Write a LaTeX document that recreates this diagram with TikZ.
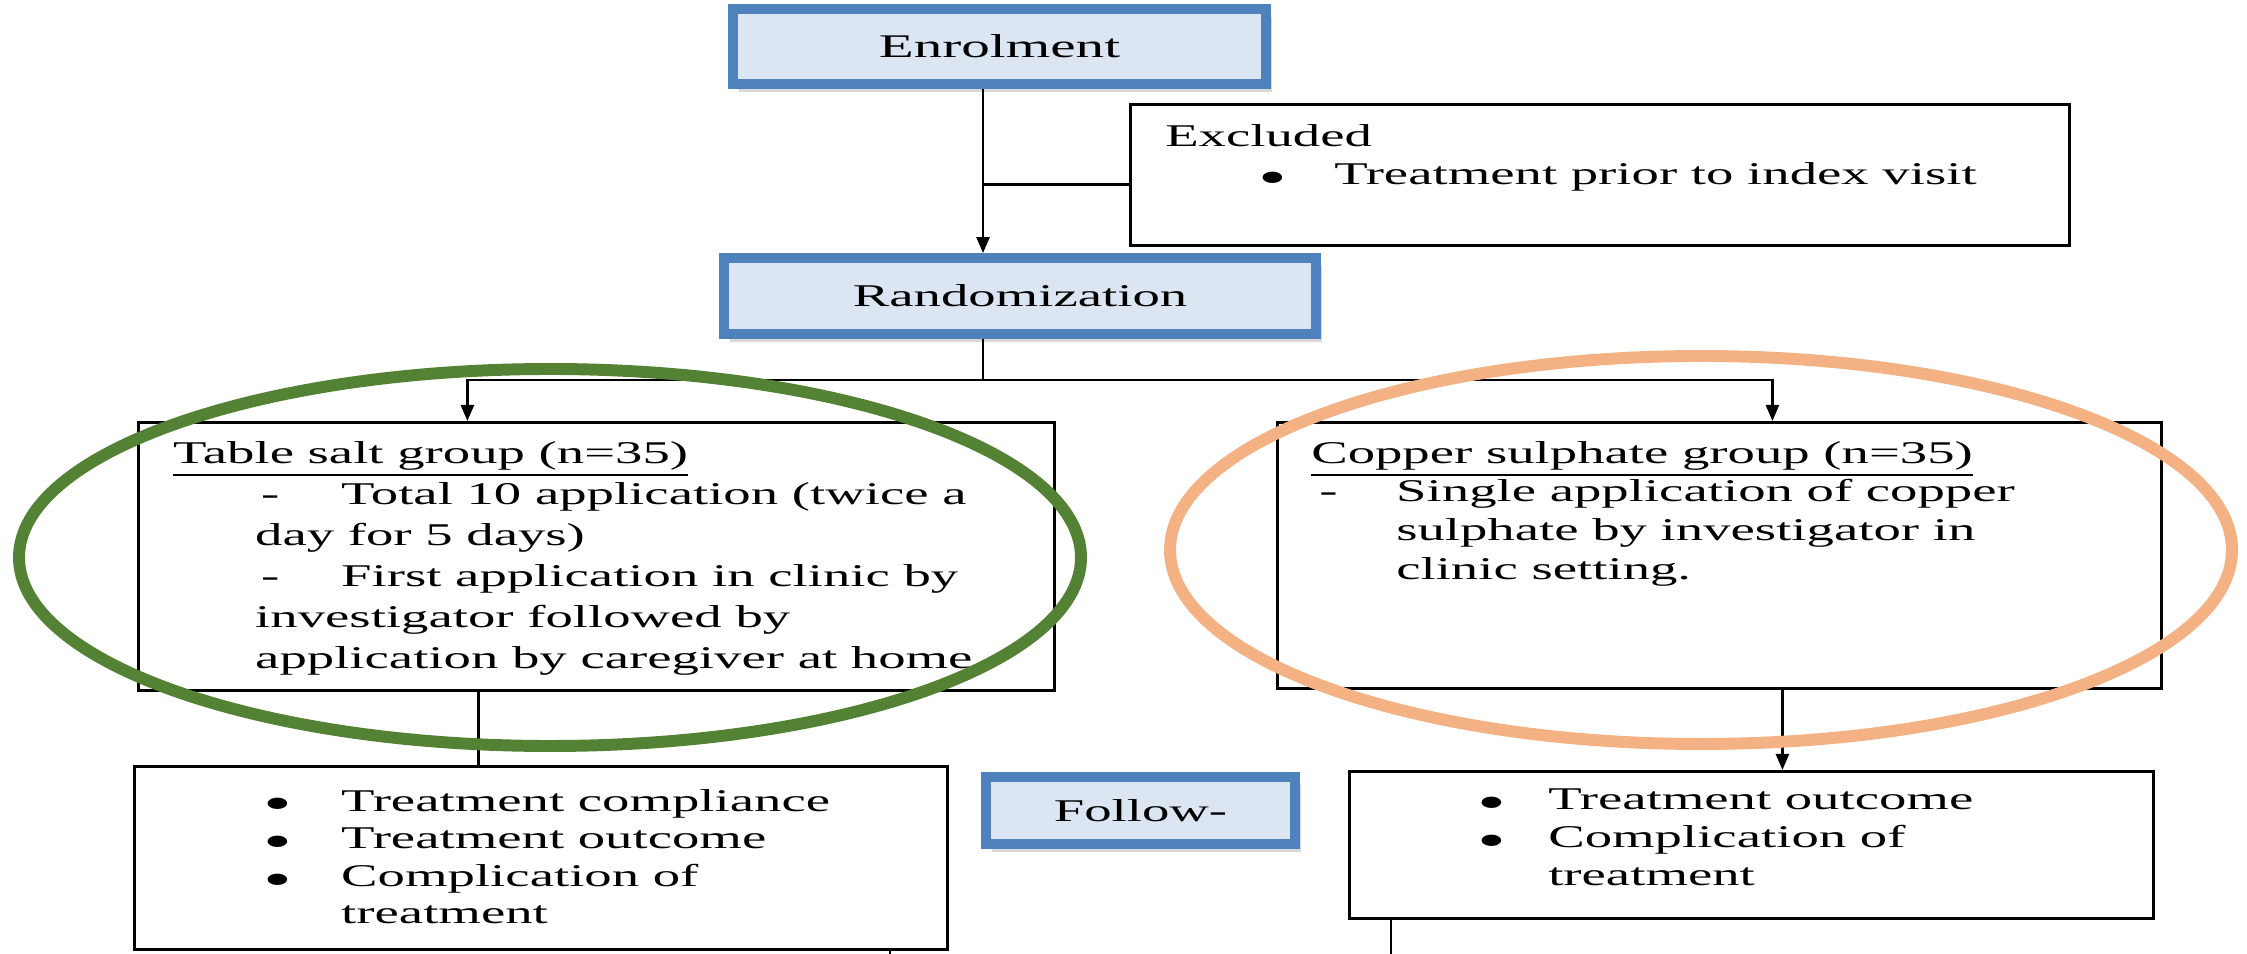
\documentclass[tikz,border=0pt]{standalone}
\usepackage{fontspec}
\usepackage{graphicx}
\setmainfont[FakeStretch=1.73]{Liberation Serif}
\usetikzlibrary{arrows.meta,shadows}
\definecolor{boxblue}{RGB}{79,129,189}
\definecolor{boxfill}{RGB}{220,230,242}
\definecolor{ringgreen}{RGB}{84,130,53}
\definecolor{ringorange}{RGB}{244,177,131}
\newcommand{\listmark}[3]{\hspace*{#1}\makebox[#2][l]{#3}}
\newcommand{\bigdot}{\smash{\raisebox{-0.6ex}{\scalebox{1.5}{\textbullet}}}}

\begin{document}
\begin{tikzpicture}[x=1cm, y=-1cm, line width=0.7pt,
    >={Triangle[length=1.6mm,width=1.3mm]},
    every node/.style={font=\fontsize{9pt}{11pt}\selectfont},
    bluebox/.style={draw=boxblue, fill=boxfill, line width=2.8pt,
      drop shadow={shadow xshift=0.06cm, shadow yshift=-0.08cm, fill=black!30}},
    plainbox/.style={draw, line width=0.8pt, anchor=north west},
    txt/.style={anchor=north west, inner sep=0pt, align=left},
    ring/.style={line width=3.4pt}]
  \useasboundingbox (0,0) rectangle (22.47,9.54);

  % enrolment and exclusion
  \node[bluebox, minimum width=5.33cm, minimum height=0.75cm, font=\fontsize{9.4pt}{11pt}\selectfont] (enrol) at (9.995,0.465) {Enrolment};
  \node[plainbox, minimum width=9.39cm, minimum height=1.41cm] (excl) at (11.29,1.03) {};
  \node[txt] (excltext) at (11.64,1.23) {Excluded\\
    \listmark{0.93cm}{0.76cm}{\bigdot}Treatment prior to index visit};
  \node[bluebox, minimum width=5.92cm, minimum height=0.76cm] (rand) at (10.20,2.96) {Randomization};

  \coordinate (spine) at (9.83,0);
  \coordinate (split) at (9.83,3.80);
  \draw[->] (enrol.south -| spine) -- (rand.north -| spine);
  \draw ([yshift=-0.095cm]excl.west) -- ([yshift=-0.095cm]excl.west -| spine);

  % the two groups
  \node[plainbox, minimum width=9.16cm, minimum height=2.68cm] (salt) at (1.37,4.21) {};
  \node[txt, font=\fontsize{9pt}{11.7pt}\selectfont] (salttext) at (1.72,4.40) {\underline{Table salt group (n=35)}\\
    \listmark{0.88cm}{0.80cm}{-}Total 10 application (twice a\\
    \hspace*{0.82cm}day for 5 days)\\
    \listmark{0.88cm}{0.80cm}{-}First application in clinic by\\
    \hspace*{0.82cm}investigator followed by\\
    \hspace*{0.82cm}application by caregiver at home};
  \node[plainbox, minimum width=8.84cm, minimum height=2.66cm] (copper) at (12.76,4.21) {};
  \node[txt] (coppertext) at (13.10,4.40) {\underline{Copper sulphate group (n=35)}\\
    \listmark{0.08cm}{0.77cm}{-}Single application of copper\\
    \hspace*{0.85cm}sulphate by investigator in\\
    \hspace*{0.85cm}clinic setting.};

  \draw (rand.south -| spine) -- (split);
  \draw[->] (split) -| ([xshift=-1.29cm]salt.north);
  \draw[->] (split) -| ([xshift=0.53cm]copper.north);

  % follow-up
  \node[plainbox, minimum width=8.13cm, minimum height=1.83cm] (followL) at (1.33,7.65) {};
  \node[txt, font=\fontsize{9pt}{10.7pt}\selectfont] (followLtext) at (2.62,7.88) {\listmark{0cm}{0.78cm}{\bigdot}Treatment compliance\\
    \listmark{0cm}{0.78cm}{\bigdot}Treatment outcome\\
    \listmark{0cm}{0.78cm}{\bigdot}Complication of\\
    \hspace*{0.78cm}treatment};
  \node[bluebox, minimum width=3.09cm, minimum height=0.67cm] (follow) at (11.405,8.105) {Follow-};
  \node[plainbox, minimum width=8.04cm, minimum height=1.47cm] (followR) at (13.48,7.70) {};
  \node[txt, font=\fontsize{9pt}{10.7pt}\selectfont] (followRtext) at (14.76,7.88) {\listmark{0cm}{0.71cm}{\bigdot}Treatment outcome\\
    \listmark{0cm}{0.71cm}{\bigdot}Complication of\\
    \hspace*{0.71cm}treatment};

  \draw ([xshift=-1.18cm]salt.south) -- ([xshift=-1.18cm]salt.south |- followL.north);
  \draw[->] ([xshift=0.63cm]copper.south) -- ([xshift=0.63cm]copper.south |- followR.north);
  \coordinate (outL) at (8.90,9.54);
  \coordinate (outR) at (13.91,9.54);
  \draw (followR.south -| outR) -- (outR);
  \draw ([yshift=0.04cm]outL) -- (outL);

  % highlight rings
  \draw[ring, ringgreen] (5.50,5.575) ellipse [x radius=5.31, y radius=1.885];
  \draw[ring, ringorange] (17.01,5.50) ellipse [x radius=5.31, y radius=1.94];
\end{tikzpicture}
\end{document}
